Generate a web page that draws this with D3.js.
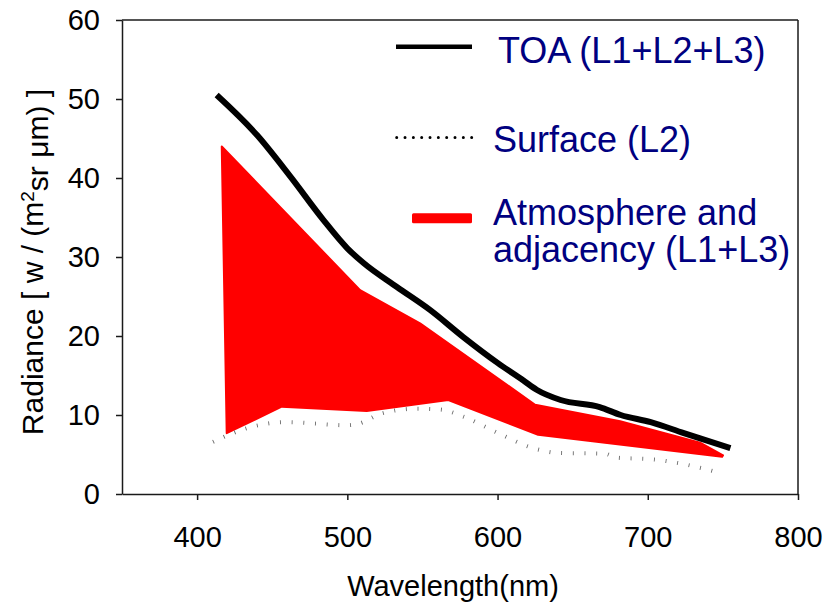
<!DOCTYPE html>
<html>
<head>
<meta charset="utf-8">
<script src="https://cdn.jsdelivr.net/npm/d3@7/dist/d3.min.js"></script>
<style>
  html, body { margin: 0; padding: 0; background: #fff; }
  svg { display: block; font-family: "Liberation Sans", Arial, sans-serif; }
</style>
</head>
<body>
<svg id="chart" width="836" height="603"></svg>
<script>
// ---- data ----
const toaWavelength = [413, 440, 462, 484, 500, 511, 533, 555, 577, 600, 617, 626, 642, 668, 682, 702, 724, 755];
const toaRadiance   = [50.5, 45.4, 40.2, 34.7, 31.1, 29.2, 26.2, 23.3, 19.9, 16.6, 14.4, 13.2, 11.9, 11.0, 10.0, 9.1, 7.7, 5.8];

const surfaceWavelength = [410.6, 436.3, 459.6, 499.6, 507.4, 522.9, 546.2, 561.7, 577.2, 600.5, 623.8, 640.5, 671.6, 679.3, 702.6, 725.9, 749.3];
const surfaceRadiance   = [6.6, 8.5, 9.1, 8.7, 8.9, 10.2, 10.8, 10.7, 9.8, 7.7, 5.8, 5.2, 5.1, 4.6, 4.4, 3.7, 2.6];

const atmTopWavelength = [416.4, 508.5, 548.4, 625.0, 681.6, 734.8, 750.1];
const atmTopRadiance   = [44.0, 25.8, 21.6, 11.3, 9.2, 6.5, 4.9];
const atmBottomWavelength = [419.7, 456.3, 512.9, 567.2, 627.0, 749.5];
const atmBottomRadiance   = [7.7, 11.05, 10.5, 11.9, 7.5, 4.7];

const xTicks = [400, 500, 600, 700, 800];
const yTicks = [0, 10, 20, 30, 40, 50, 60];

const legendLabels = ["TOA (L1+L2+L3)", "Surface (L2)", "Atmosphere and", "adjacency (L1+L3)"];

// ---- chart ----
const svg = d3.select("#chart");
const x = d3.scaleLinear().domain([350, 800]).range([122, 798]);
const y = d3.scaleLinear().domain([0, 60]).range([494, 20]);

const axisColor = "#1a1a1a";

// red area polygon: top edge then bottom edge reversed
const topPts = atmTopWavelength.map((w, i) => [w, atmTopRadiance[i]]);
const botPts = atmBottomWavelength.map((w, i) => [w, atmBottomRadiance[i]]).reverse();
const poly = d3.line().x(d => x(d[0])).y(d => y(d[1])).curve(d3.curveLinearClosed);
svg.append("path")
  .attr("d", poly(topPts.concat(botPts)))
  .attr("fill", "#ff0000")
  .attr("stroke", "#ff0000")
  .attr("stroke-width", 2)
  .attr("stroke-linejoin", "round");

// surface dotted line
const surfPts = surfaceWavelength.map((w, i) => [w, surfaceRadiance[i]]);
const smooth = d3.line().x(d => x(d[0])).y(d => y(d[1])).curve(d3.curveMonotoneX);
svg.append("path")
  .attr("d", smooth(surfPts))
  .attr("fill", "none")
  .attr("stroke", "#6a6a6a")
  .attr("stroke-width", 4)
  .attr("stroke-dasharray", "0.9 10.8");

// TOA line
const toaPts = toaWavelength.map((w, i) => [w, toaRadiance[i]]);
svg.append("path")
  .attr("d", smooth(toaPts))
  .attr("fill", "none")
  .attr("stroke", "#000")
  .attr("stroke-width", 6)
  .attr("stroke-linejoin", "round");

// axes
const yAxis = d3.axisLeft(y).tickValues(yTicks).tickSize(6).tickSizeOuter(0).tickPadding(16);
const gy = svg.append("g").attr("transform", `translate(${x.range()[0]},0)`).call(yAxis);
const xAxis = d3.axisBottom(x).tickValues(xTicks).tickSize(6).tickSizeOuter(0).tickPadding(26);
const gx = svg.append("g").attr("transform", `translate(0,${y.range()[0]})`).call(xAxis);

[gx, gy].forEach(g => {
  g.select(".domain").attr("stroke", axisColor).attr("stroke-width", 1.5);
  g.selectAll(".tick line").attr("stroke", axisColor).attr("stroke-width", 1.5);
  g.selectAll(".tick text")
    .attr("fill", "#000")
    .style("font-size", "29px")
    .style("font-family", '"Liberation Sans", Arial, sans-serif');
});
// extend bottom axis line to the left (under the 0 tick) already covered by the tick

// frame: top and right borders
svg.append("line")
  .attr("x1", x.range()[0]).attr("x2", x.range()[1])
  .attr("y1", y.range()[1]).attr("y2", y.range()[1])
  .attr("stroke", axisColor).attr("stroke-width", 1.5);
svg.append("line")
  .attr("x1", x.range()[1]).attr("x2", x.range()[1])
  .attr("y1", y.range()[1]).attr("y2", y.range()[0])
  .attr("stroke", axisColor).attr("stroke-width", 1.5);

// axis titles
svg.append("text")
  .attr("x", 453).attr("y", 596)
  .attr("text-anchor", "middle")
  .style("font-size", "29px")
  .attr("fill", "#000")
  .text("Wavelength(nm)");

const yt = svg.append("text")
  .attr("transform", "translate(43,262) rotate(-90)")
  .attr("text-anchor", "middle")
  .style("font-size", "30px")
  .attr("fill", "#000");
yt.append("tspan").text("Radiance [ w / (m");
yt.append("tspan").attr("dy", "-0.45em").style("font-size", "19px").text("2");
yt.append("tspan").attr("dy", "0.45em").text("sr \u03BCm) ]");

// legend
const navy = "#000080";
svg.append("line")
  .attr("x1", 396).attr("x2", 472).attr("y1", 46.7).attr("y2", 46.7)
  .attr("stroke", "#000").attr("stroke-width", 4.5);
svg.append("line")
  .attr("x1", 396.7).attr("x2", 473).attr("y1", 137.5).attr("y2", 137.5)
  .attr("stroke", "#000").attr("stroke-width", 3)
  .attr("stroke-linecap", "round")
  .attr("stroke-dasharray", "0 8.33");
svg.append("rect")
  .attr("x", 412).attr("y", 213.3).attr("width", 60).attr("height", 10)
  .attr("rx", 1.5)
  .attr("fill", "#ff0000");

const legendPos = [[498, 63], [493, 152], [493, 225], [493, 262]];
legendLabels.forEach((t, i) => {
  svg.append("text")
    .attr("x", legendPos[i][0]).attr("y", legendPos[i][1])
    .style("font-size", "36px")
    .attr("fill", navy)
    .text(t);
});
</script>
</body>
</html>
